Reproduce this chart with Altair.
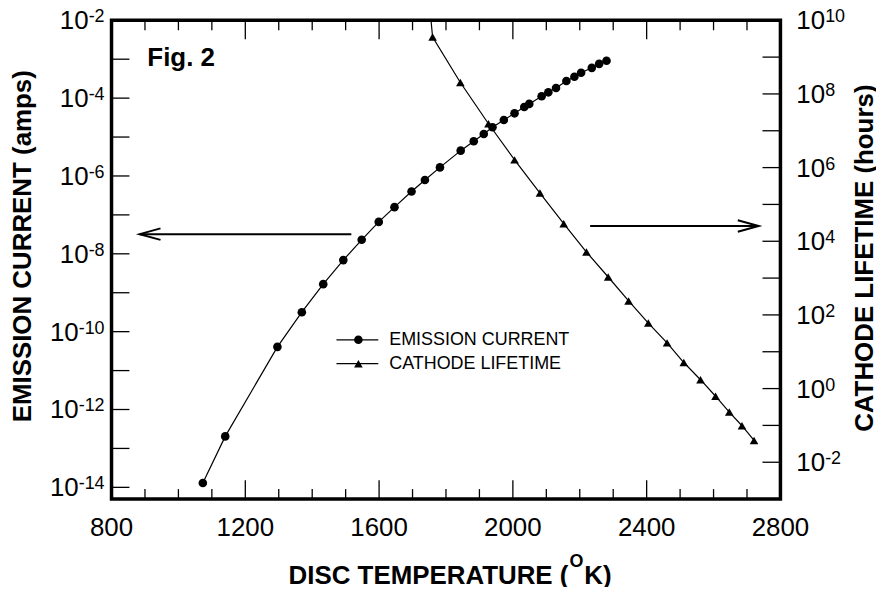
import altair as alt
import pandas as pd

# ---------------- data ----------------
# Emission current (amps) vs disc temperature (K)  -> left axis
em_temp = [1073, 1140, 1296, 1369, 1433, 1493, 1548, 1599, 1646, 1697, 1737, 1782,
           1844, 1883, 1913, 1939, 1973, 2005, 2034, 2049, 2086, 2106, 2129, 2160,
           2184, 2204, 2236, 2258, 2280]
em_current = [1.29e-14, 2.04e-13, 4.07e-11, 3.16e-10, 1.66e-9, 6.9e-9, 2.29e-8, 6.6e-8,
              1.58e-7, 3.98e-7, 7.9e-7, 1.66e-6, 4.47e-6, 7.8e-6, 1.2e-5, 1.78e-5,
              2.75e-5, 4.07e-5, 5.9e-5, 7.1e-5, 1.12e-4, 1.41e-4, 1.82e-4, 2.75e-4,
              3.55e-4, 4.47e-4, 6.0e-4, 7.6e-4, 9.1e-4]

# Cathode lifetime (hours) vs disc temperature (K)  -> right axis
lt_temp = [1760, 1843, 1927, 2005, 2081, 2152, 2220, 2285, 2346, 2405, 2461, 2511,
           2561, 2606, 2647, 2685, 2721]
lt_hours = [3.5e9, 2.04e8, 1.55e7, 1.62e6, 2.04e5, 3.0e4, 5.1e3, 1.07e3, 240, 60,
            17.4, 5.1, 1.74, 0.62, 0.23, 0.098, 0.039]
# the drawn curve continues a little above the first marker, out of the frame
lt_curve_lead_temp = [1754]
lt_curve_lead_hours = [1.3e10]

# axes
x_label_values = [800, 1200, 1600, 2000, 2400, 2800]
x_major_ticks = [1200, 1600, 2000, 2400]
x_minor_ticks = [900, 1000, 1100, 1300, 1400, 1500, 1700, 1800, 1900, 2100, 2200,
                 2300, 2500, 2600, 2700]
left_tick_exps = [-14, -13, -12, -11, -10, -9, -8, -7, -6, -5, -4, -3]
right_tick_exps = [-2, -1, 0, 1, 2, 3, 4, 5, 6, 7, 8, 9]
left_label_exps = [-2, -4, -6, -8, -10, -12, -14]
right_label_exps = [10, 8, 6, 4, 2, 0, -2]

# annotations
legend_labels = ["EMISSION CURRENT", "CATHODE LIFETIME"]
left_arrow_temp = [884, 1517]
left_arrow_current = 3.2e-8
right_arrow_temp = [2231, 2735]
right_arrow_hours = 2.6e4

x_title = ["DISC TEMPERATURE (", "O", "K)"]
y_left_title = "EMISSION CURRENT (amps)"
y_right_title = "CATHODE LIFETIME (hours)"
fig_label = "Fig. 2"

# ---------------- chart ----------------
W, H = 672, 481
FONT = "Liberation Sans, Arial, Helvetica, sans-serif"
BIG = 26
SUP = 18
TTL = 26

xs = alt.Scale(domain=[800, 2800], nice=False, zero=False)
yl = alt.Scale(type="log", domain=[5.0e-15, 1e-2], nice=False)
yr = alt.Scale(type="log", domain=[1e-3, 1e10], nice=False)


def X(field="T"):
    return alt.X(f"{field}:Q", scale=xs, axis=None)


def YL(field):
    return alt.Y(f"{field}:Q", scale=yl, axis=None)


def YR(field):
    return alt.Y(f"{field}:Q", scale=yr, axis=None)


em_df = pd.DataFrame({"T": em_temp, "I": em_current})
lt_df = pd.DataFrame({"T": lt_temp, "H": lt_hours})
lt_line_df = pd.DataFrame({"T": lt_curve_lead_temp + lt_temp,
                           "H": lt_curve_lead_hours + lt_hours})

layers = []

# series
layers.append(alt.Chart(em_df).mark_line(color="black", strokeWidth=1.2).encode(
    x=X(), y=YL("I")))
layers.append(alt.Chart(em_df).mark_circle(color="black", size=75, opacity=1).encode(
    x=X(), y=YL("I")))
layers.append(alt.Chart(lt_line_df).mark_line(color="black", strokeWidth=1.2, clip=True).encode(
    x=X(), y=YR("H")))
layers.append(alt.Chart(lt_df).mark_point(shape="triangle-up", filled=True, color="black",
                                          size=75, opacity=1).encode(x=X(), y=YR("H")))

# x ticks (inward, bottom and top)
maj = pd.DataFrame({"T": x_major_ticks})
mino = pd.DataFrame({"T": x_minor_ticks})
for df, ln in ((maj, 19), (mino, 10)):
    layers.append(alt.Chart(df).mark_rule(color="black", strokeWidth=1.3).encode(
        x=X(), y=alt.value(H), y2=alt.value(H - ln)))
    layers.append(alt.Chart(df).mark_rule(color="black", strokeWidth=1.3).encode(
        x=X(), y=alt.value(0), y2=alt.value(ln)))

# y ticks (inward)
lt_ticks = pd.DataFrame({"v": [10.0 ** e for e in left_tick_exps]})
rt_ticks = pd.DataFrame({"v": [10.0 ** e for e in right_tick_exps]})
layers.append(alt.Chart(lt_ticks).mark_rule(color="black", strokeWidth=1.3).encode(
    y=YL("v"), x=alt.value(0), x2=alt.value(18)))
layers.append(alt.Chart(rt_ticks).mark_rule(color="black", strokeWidth=1.3).encode(
    y=YR("v"), x=alt.value(W - 18), x2=alt.value(W)))

# x tick labels
xl = pd.DataFrame({"T": x_label_values, "lab": [str(v) for v in x_label_values]})
layers.append(alt.Chart(xl).mark_text(font=FONT, fontSize=BIG, baseline="top", align="center",
                                      color="black").encode(
    x=X(), y=alt.value(H + 16), text="lab:N"))


def exp_width(s):
    return sum(0.333 * SUP if c == "-" else 0.556 * SUP for c in s)


EXP_DY = 2     # superscript baseline relative to the tick
BASE_DY = 1    # "10" centred on the tick

# left tick labels: "10" + superscript, right-aligned
ll = pd.DataFrame({"v": [10.0 ** e for e in left_label_exps],
                   "exp": [str(e) for e in left_label_exps]})
layers.append(alt.Chart(ll).mark_text(font=FONT, fontSize=SUP, baseline="alphabetic",
                                      align="right", dy=EXP_DY, color="black").encode(
    y=YL("v"), x=alt.value(-7), text="exp:N"))
for s_len in sorted(set(len(s) for s in ll["exp"])):
    sub = ll[ll["exp"].str.len() == s_len]
    w = exp_width(sub["exp"].iloc[0])
    layers.append(alt.Chart(sub).mark_text(font=FONT, fontSize=BIG, baseline="middle",
                                           align="right", dy=BASE_DY, color="black").encode(
        y=YL("v"), x=alt.value(-7 - w), text=alt.value("10")))

# right tick labels, left-aligned
rl = pd.DataFrame({"v": [10.0 ** e for e in right_label_exps],
                   "exp": [str(e) for e in right_label_exps]})
layers.append(alt.Chart(rl).mark_text(font=FONT, fontSize=BIG, baseline="middle",
                                      align="left", dy=BASE_DY, color="black").encode(
    y=YR("v"), x=alt.value(W + 16), text=alt.value("10")))
layers.append(alt.Chart(rl).mark_text(font=FONT, fontSize=SUP, baseline="alphabetic",
                                      align="left", dy=EXP_DY, color="black").encode(
    y=YR("v"), x=alt.value(W + 16 + 0.556 * BIG * 2), text="exp:N"))

# x title: "DISC TEMPERATURE (" + superscript O + "K)"
one = pd.DataFrame({"k": [0]})
P = 459
layers.append(alt.Chart(one).mark_text(font=FONT, fontSize=TTL, fontWeight="bold", align="right",
                                       baseline="alphabetic", color="black").encode(
    x=alt.value(P), y=alt.value(H + 85), text=alt.value(x_title[0])))
layers.append(alt.Chart(one).mark_text(font=FONT, fontSize=SUP, fontWeight="bold", align="left",
                                       baseline="alphabetic", color="black").encode(
    x=alt.value(P + 1), y=alt.value(H + 68), text=alt.value(x_title[1])))
layers.append(alt.Chart(one).mark_text(font=FONT, fontSize=TTL, fontWeight="bold", align="left",
                                       baseline="alphabetic", color="black").encode(
    x=alt.value(P + 2 + 0.778 * SUP), y=alt.value(H + 85), text=alt.value(x_title[2])))

# y titles
layers.append(alt.Chart(one).mark_text(font=FONT, fontSize=BIG, fontWeight="bold", angle=270,
                                       align="center", baseline="alphabetic", color="black").encode(
    x=alt.value(-81), y=alt.value(227), text=alt.value(y_left_title)))
layers.append(alt.Chart(one).mark_text(font=FONT, fontSize=BIG, fontWeight="bold", angle=270,
                                       align="center", baseline="alphabetic", color="black").encode(
    x=alt.value(W + 93), y=alt.value(239), text=alt.value(y_right_title)))

layers.append(alt.Chart(one).mark_text(font=FONT, fontSize=BIG, fontWeight="bold", align="left",
                                       baseline="alphabetic", color="black").encode(
    x=alt.value(36), y=alt.value(46), text=alt.value(fig_label)))

# arrows
la = pd.DataFrame({"T1": [left_arrow_temp[0]], "T2": [left_arrow_temp[1]], "v": [left_arrow_current]})
ra = pd.DataFrame({"T1": [right_arrow_temp[1]], "T2": [right_arrow_temp[0]], "v": [right_arrow_hours]})
layers.append(alt.Chart(la).mark_rule(color="black", strokeWidth=2).encode(
    x=X("T1"), x2="T2:Q", y=YL("v")))
layers.append(alt.Chart(la).mark_point(shape="M2,-0.55L0,0L2,0.55", size=441, filled=False,
                                       color="black", strokeWidth=2, opacity=1).encode(
    x=X("T1"), y=YL("v")))
layers.append(alt.Chart(ra).mark_rule(color="black", strokeWidth=2).encode(
    x=X("T1"), x2="T2:Q", y=YR("v")))
layers.append(alt.Chart(ra).mark_point(shape="M-2,-0.55L0,0L-2,0.55", size=441, filled=False,
                                       color="black", strokeWidth=2, opacity=1).encode(
    x=X("T1"), y=YR("v")))

# legend
leg = pd.DataFrame({"label": legend_labels, "row": [0, 1]})
for row, shape, ly in ((0, "circle", 321), (1, "triangle-up", 345)):
    sub = leg[leg["row"] == row]
    layers.append(alt.Chart(sub).mark_rule(color="black", strokeWidth=1.3).encode(
        x=alt.value(226), x2=alt.value(268), y=alt.value(ly)))
    layers.append(alt.Chart(sub).mark_point(shape=shape, filled=True, color="black", size=75,
                                            opacity=1).encode(x=alt.value(248), y=alt.value(ly)))
    layers.append(alt.Chart(sub).mark_text(font=FONT, fontSize=18, align="left", baseline="middle",
                                           color="black").encode(
        x=alt.value(279), y=alt.value(ly), text="label:N"))

chart = alt.layer(*layers).resolve_scale(y="independent").properties(
    width=W, height=H,
    padding={"left": 104, "top": 11, "right": 96, "bottom": 87},
    autosize=alt.AutoSizeParams(type="none"),
    background="white",
).configure_view(stroke="black", strokeWidth=3.5)

chart.save("out.html", embed_options={"renderer": "svg", "actions": False})
